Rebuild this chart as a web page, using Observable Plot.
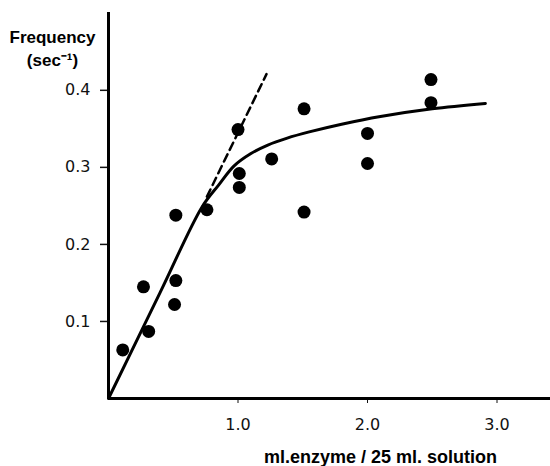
<!DOCTYPE html>
<html>
<head>
<meta charset="utf-8">
<script src="https://cdn.jsdelivr.net/npm/d3@7"></script>
<script src="https://cdn.jsdelivr.net/npm/@observablehq/plot@0.6"></script>
<style>
  html, body { margin: 0; padding: 0; background: #fff; }
  svg { display: block; }
</style>
</head>
<body>
<div id="chart"></div>
<script>
// Measured points
const pointX = [0.11, 0.27, 0.31, 0.51, 0.52, 0.52, 0.76, 1.0, 1.01, 1.01, 1.26, 1.51, 1.51, 2.0, 2.0, 2.49, 2.49];
const pointY = [0.063, 0.145, 0.087, 0.122, 0.153, 0.238, 0.245, 0.349, 0.292, 0.274, 0.311, 0.376, 0.242, 0.344, 0.305, 0.414, 0.384];

// Fitted curve
const curveX = [0, 0.4, 0.72, 0.85, 0.97, 1.10, 1.23, 1.38, 1.55, 1.8, 2.1, 2.5, 2.91];
const curveY = [0, 0.138, 0.248, 0.277, 0.302, 0.318, 0.329, 0.338, 0.346, 0.356, 0.366, 0.376, 0.383];

// Initial-slope extension (dashed)
const dashX = [0.76, 1.22];
const dashY = [0.262, 0.421];

const xTicks = [1, 2, 3];
const xTickLabels = ["1.0", "2.0", "3.0"];
const yTicks = [0.1, 0.2, 0.3, 0.4];
const yTickLabels = ["0.1", "0.2", "0.3", "0.4"];

const yTitle = ["Frequency", "(sec\u207B\u00B9)"];
const xTitle = "ml.enzyme / 25 ml. solution";

const points = pointX.map((x, i) => ({x, y: pointY[i]}));
const curve = curveX.map((x, i) => ({x, y: curveY[i]}));
const dash = dashX.map((x, i) => ({x, y: dashY[i]}));

const titleFont = "'Liberation Sans', Arial, sans-serif";
const tickFont = "'DejaVu Sans', sans-serif";

const chart = Plot.plot({
  width: 550,
  height: 466,
  marginLeft: 108,
  marginRight: 0,
  marginTop: 12,
  marginBottom: 68,
  style: {fontFamily: tickFont, fontSize: "16px", color: "#111", background: "#fff"},
  x: {domain: [0, 3.413]},
  y: {domain: [0, 0.501]},
  marks: [
    Plot.axisY({ticks: yTicks, tickFormat: (d, i) => yTickLabels[i], tickSize: 8, tickPadding: 10, label: null, strokeWidth: 1.5, fontSize: 16, fontFamily: tickFont}),
    Plot.axisX({ticks: xTicks, tickFormat: (d, i) => xTickLabels[i], tickSize: 5, tickPadding: 15, label: null, strokeWidth: 1, fontSize: 16, fontFamily: tickFont}),
    Plot.ruleX([0], {stroke: "#000", strokeWidth: 3}),
    Plot.ruleY([0], {stroke: "#000", strokeWidth: 3}),
    Plot.line(curve, {x: "x", y: "y", curve: "catmull-rom", stroke: "#000", strokeWidth: 3}),
    Plot.line(dash, {x: "x", y: "y", stroke: "#000", strokeWidth: 2.5, strokeDasharray: "8,5"}),
    Plot.dot(points, {x: "x", y: "y", r: 6.5, fill: "#000", stroke: "none"}),
    Plot.text([yTitle[0]], {frameAnchor: "top-left", dx: -56, dy: 25, text: d => d, textAnchor: "middle", lineAnchor: "middle", fontSize: 17, fontWeight: "bold", fontFamily: titleFont, fill: "#000"}),
    Plot.text([yTitle[1]], {frameAnchor: "top-left", dx: -56, dy: 48, text: d => d, textAnchor: "middle", lineAnchor: "middle", fontSize: 17, fontWeight: "bold", fontFamily: titleFont, fill: "#000"}),
    Plot.text([xTitle], {frameAnchor: "bottom-left", dx: 272, dy: 59, text: d => d, textAnchor: "middle", lineAnchor: "middle", fontSize: 18, fontWeight: "bold", fontFamily: titleFont, fill: "#000"})
  ]
});
document.getElementById("chart").appendChild(chart);
</script>
</body>
</html>
